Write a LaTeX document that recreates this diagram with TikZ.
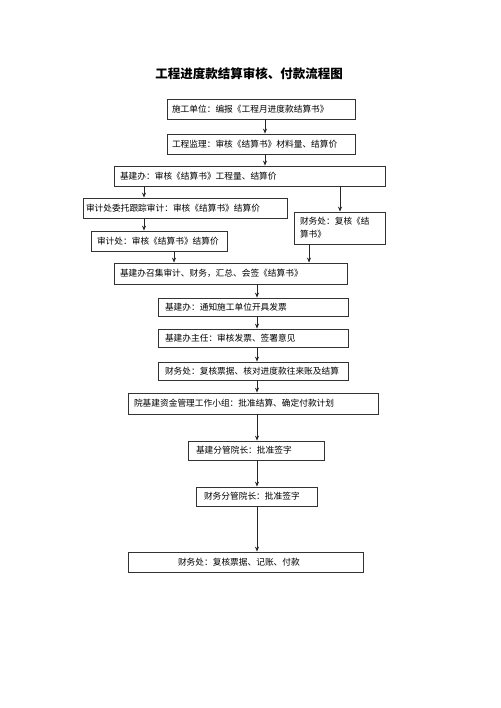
\documentclass[tikz,border=0pt]{standalone}
\usepackage{fontspec}
\setmainfont{Noto Sans CJK SC}
\newfontfamily\cjk{Noto Sans CJK SC}
\usetikzlibrary{arrows.meta}
\begin{document}
\begin{tikzpicture}[x=1pt,y=-1pt,
  box/.style={draw=black!80, line width=0.8pt, fill=white, align=left, inner ysep=0pt,
    font=\cjk\fontsize{8.7}{11}\selectfont, anchor=center},
  arr/.style={draw=black!85, line width=0.8pt, -{Stealth[length=5pt,width=4pt]}}]
\useasboundingbox[fill=white] (0,0) rectangle (500,708);
\node[font=\cjk\bfseries\fontsize{12.5}{14}\selectfont] (title) at (249,74) {工程进度款结算审核、付款流程图};
% boxes: text width = W - 2*pad, inner xsep = pad
\node[box, text width=178pt, inner xsep=5pt, minimum height=20pt] (b1) at (261,109) {施工单位：编报《工程月进度款结算书》};
\node[box, text width=178pt, inner xsep=5pt, minimum height=20pt] (b2) at (261,144) {工程监理：审核《结算书》材料量、结算价};
\node[box, text width=259pt, inner xsep=6pt, minimum height=20pt] (b3) at (249.5,176) {基建办：审核《结算书》工程量、结算价};
\node[box, text width=198pt, inner xsep=3pt, minimum height=20pt] (b4) at (185,208) {审计处委托跟踪审计：审核《结算书》结算价};
\node[box, text width=79pt, inner xsep=6pt, minimum height=32pt, font=\cjk\fontsize{8.7}{13}\selectfont] (b5) at (339.5,228) {财务处：复核《结\\算书》};
\node[box, text width=124pt, inner xsep=6pt, minimum height=20pt] (b6) at (159,241) {审计处：审核《结算书》结算价};
\node[box, text width=221pt, inner xsep=6pt, minimum height=21pt] (b7) at (230.5,273.5) {基建办召集审计、财务，汇总、会签《结算书》};
\node[box, text width=176pt, inner xsep=7pt, minimum height=18pt] (b8) at (253,307) {基建办：通知施工单位开具发票};
\node[box, text width=176pt, inner xsep=7pt, minimum height=18pt] (b9) at (253,338) {基建办主任：审核发票、签署意见};
\node[box, text width=176pt, inner xsep=7pt, minimum height=18pt] (b10) at (253,371) {财务处：复核票据、核对进度款往来账及结算};
\node[box, text width=238pt, inner xsep=6pt, minimum height=21pt] (b11) at (253,403.5) {院基建资金管理工作小组：批准结算、确定付款计划};
\node[box, text width=120pt, inner xsep=8pt, minimum height=19pt] (b12) at (256,450.5) {基建分管院长：批准签字};
\node[box, text width=105pt, inner xsep=8pt, minimum height=19pt] (b13) at (256.5,496.5) {财务分管院长：批准签字};
\node[box, text width=135pt, inner xsep=50pt, minimum height=20pt] (b14) at (245.5,562) {财务处：复核票据、记账、付款};
% connectors
\draw[arr] (b1.south -| 265,0) -- (b2.north -| 265,0);
\draw[arr] (b2.south -| 265,0) -- (b3.north -| 265,0);
\draw[arr] (b3.south -| 144,0) -- (b4.north -| 144,0);
\draw[arr] (b3.south -| 340,0) -- (b5.north -| 340,0);
\draw[arr] (b4.south -| 144,0) -- (b6.north -| 144,0);
\draw[arr] (b6.south -| 174,0) -- (b7.north -| 174,0);
\draw[arr] (b5.south -| 309,0) -- (b7.north -| 309,0);
\draw[arr] (b7.south -| 257,0) -- (b8.north -| 257,0);
\draw[arr] (b8.south -| 257,0) -- (b9.north -| 257,0);
\draw[arr] (b9.south -| 257,0) -- (b10.north -| 257,0);
\draw[arr] (b10.south -| 257,0) -- (b11.north -| 257,0);
\draw[arr] (b11.south -| 257,0) -- (b12.north -| 257,0);
\draw[arr] (b12.south -| 257,0) -- (b13.north -| 257,0);
\draw[arr] (b13.south -| 257,0) -- (b14.north -| 257,0);
\end{tikzpicture}
\end{document}
